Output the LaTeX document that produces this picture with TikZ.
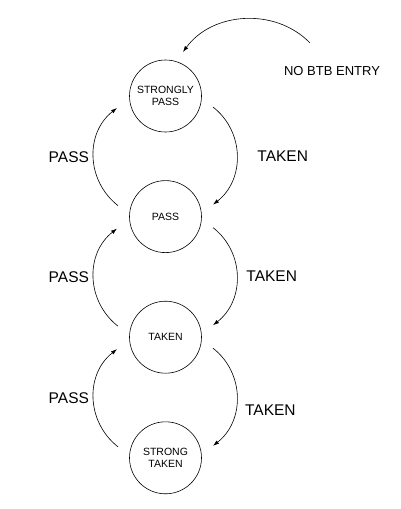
\documentclass[tikz,border=0pt]{standalone}
\usepackage{fontspec}
\setmainfont{Liberation Sans}
\usetikzlibrary{shapes, arrows.meta, positioning}

\begin{document}
\begin{tikzpicture}[x=1pt, y=1pt, node distance=48pt,
    state/.style={draw, circle, line width=0.6pt, minimum size=72pt, inner sep=0pt,
      align=center, font=\fontsize{10.5}{11.5}\selectfont},
    edge/.style={draw, line width=0.6pt, -{Latex[length=6pt, width=4pt]}},
    lbl/.style={font=\fontsize{15.5}{18}\selectfont}]
        \useasboundingbox (0,0) rectangle (401,-509);

        % Draw the states
        \node (spass)   [state] at (165.5,-96) {STRONGLY\\PASS};
        \node (pass)    [state, below=of spass] {PASS};
        \node (taken)   [state, below=of pass] {TAKEN};
        \node (staken)  [state, below=of taken] {STRONG\\TAKEN};
        \coordinate (entry) at (310,-43);

        % Entry arrow
        \draw [edge] (entry) to[out=134, in=54] ([shift={(17.5pt,44pt)}]spass.center);
        \node [font=\fontsize{13}{15}\selectfont] at (332,-71) {NO BTB ENTRY};

        % Taken transitions (downwards)
        \draw [edge] ([shift={(47.5pt,-11pt)}]spass.center) to[out=-38, in=38, looseness=1.06]
            node [lbl, pos=0.5, right=17pt] {TAKEN} ([shift={(47.5pt,12pt)}]pass.center);
        \draw [edge] ([shift={(47.5pt,-11pt)}]pass.center) to[out=-38, in=38, looseness=1.06]
            node [lbl, pos=0.5, right=6pt] {TAKEN} ([shift={(47.5pt,12pt)}]taken.center);
        \draw [edge] ([shift={(47.5pt,-11pt)}]taken.center) to[out=-38, in=38, looseness=1.06]
            node [lbl, pos=0.62, right=6pt] {TAKEN} ([shift={(47.5pt,12pt)}]staken.center);

        % Pass transitions (upwards)
        \draw [edge] ([shift={(-47.5pt,11pt)}]pass.center) to[out=142, in=-142, looseness=1.06]
            node [lbl, pos=0.5, left=1pt] {PASS} ([shift={(-48.5pt,-12pt)}]spass.center);
        \draw [edge] ([shift={(-47.5pt,11pt)}]taken.center) to[out=142, in=-142, looseness=1.06]
            node [lbl, pos=0.5, left=1pt] {PASS} ([shift={(-48.5pt,-12pt)}]pass.center);
        \draw [edge] ([shift={(-47.5pt,11pt)}]staken.center) to[out=142, in=-142, looseness=1.06]
            node [lbl, pos=0.5, left=1pt] {PASS} ([shift={(-48.5pt,-12pt)}]taken.center);
    \end{tikzpicture}
\end{document}
